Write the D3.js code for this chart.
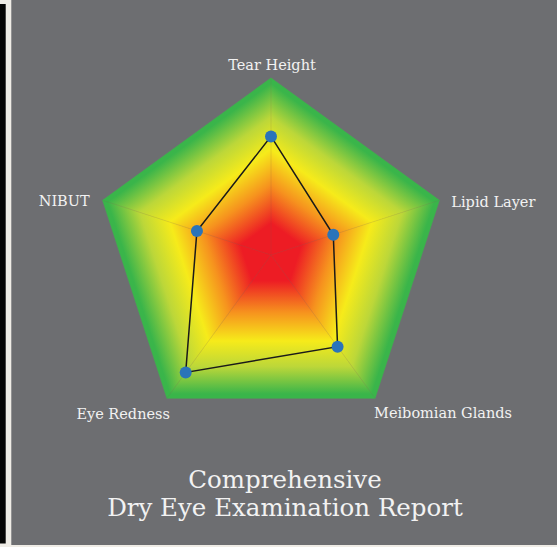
<!DOCTYPE html>
<html>
<head>
<meta charset="utf-8">
<script src="https://cdn.jsdelivr.net/npm/d3@7"></script>
<style>
  html, body { margin: 0; padding: 0; background: #efece6; }
  svg { display: block; }
  .label { font-family: "DejaVu Serif", serif; fill: #f2f2f2; }
</style>
</head>
<body>
<script>
// chart data
const axes = ["Tear Height", "Lipid Layer", "Meibomian Glands", "Eye Redness", "NIBUT"];
const scores = [6.7, 3.7, 6.4, 8.2, 4.4];
const maxScore = 10;
const titleLines = ["Comprehensive", "Dry Eye Examination Report"];

const width = 557, height = 547;
const cx = 271, cy = 255, R = 177;

const svg = d3.select("body").append("svg")
  .attr("width", width)
  .attr("height", height);

// frame: light page, black strip on the left, grey panel
svg.append("rect").attr("width", width).attr("height", height).attr("fill", "#efece6");
svg.append("rect").attr("x", 0).attr("y", 4).attr("width", 5.7).attr("height", 539.5).attr("fill", "#050505");
svg.append("rect").attr("x", 11.3).attr("y", 0).attr("width", width - 11.3).attr("height", 545).attr("fill", "#6d6e71");

const r = d3.scaleLinear().domain([0, maxScore]).range([0, R]);
const angle = d3.scaleLinear().domain([0, axes.length]).range([-Math.PI / 2, Math.PI * 1.5]);

const pt = (i, v) => [cx + r(v) * Math.cos(angle(i)), cy + r(v) * Math.sin(angle(i))];

const defs = svg.append("defs");
const g = svg.append("g");

// background pentagon: one triangle per sector, each with a gradient toward its edge
const sectors = d3.range(axes.length);
sectors.forEach(i => {
  const a = pt(i, maxScore), b = pt((i + 1) % axes.length, maxScore);
  const mx = (a[0] + b[0]) / 2, my = (a[1] + b[1]) / 2;
  const grad = defs.append("linearGradient")
    .attr("id", "sec" + i)
    .attr("gradientUnits", "userSpaceOnUse")
    .attr("x1", cx).attr("y1", cy)
    .attr("x2", mx).attr("y2", my);
  [[0, "#ed1c24"], [0.18, "#ed1c24"], [0.4, "#f6921e"], [0.6, "#f6eb1a"], [0.78, "#bcd739"], [0.97, "#3ab54a"], [1, "#39b54a"]]
    .forEach(s => grad.append("stop").attr("offset", s[0]).attr("stop-color", s[1]));
  g.append("path")
    .attr("d", "M" + [cx, cy] + "L" + a + "L" + b + "Z")
    .attr("fill", "url(#sec" + i + ")")
    .attr("stroke", "url(#sec" + i + ")")
    .attr("stroke-width", 0.6);
});

// spokes
g.selectAll("line.spoke")
  .data(axes)
  .join("line")
  .attr("class", "spoke")
  .attr("x1", cx).attr("y1", cy)
  .attr("x2", (d, i) => pt(i, maxScore)[0])
  .attr("y2", (d, i) => pt(i, maxScore)[1])
  .attr("stroke", "rgba(120,100,80,0.25)")
  .attr("stroke-width", 0.6);

// data polygon
const line = d3.line().curve(d3.curveLinearClosed);
g.append("path")
  .attr("d", line(scores.map((v, i) => pt(i, v))))
  .attr("fill", "none")
  .attr("stroke", "#1a1a1a")
  .attr("stroke-width", 1.5);

g.selectAll("circle.dot")
  .data(scores)
  .join("circle")
  .attr("class", "dot")
  .attr("cx", (d, i) => pt(i, d)[0])
  .attr("cy", (d, i) => pt(i, d)[1])
  .attr("r", 6)
  .attr("fill", "#2a74ba");

// axis labels, placed around the vertices
const labelOffset = [
  { dx: 1, dy: -8, anchor: "middle" },
  { dx: 12, dy: 7, anchor: "start" },
  { dx: -1, dy: 20, anchor: "start" },
  { dx: 3, dy: 21, anchor: "end" },
  { dx: -13, dy: 6, anchor: "end" }
];
svg.selectAll("text.axis-label")
  .data(axes)
  .join("text")
  .attr("class", "label axis-label")
  .attr("x", (d, i) => pt(i, maxScore)[0] + labelOffset[i].dx)
  .attr("y", (d, i) => pt(i, maxScore)[1] + labelOffset[i].dy)
  .attr("text-anchor", (d, i) => labelOffset[i].anchor)
  .attr("font-size", 14.5)
  .text(d => d);

// title
svg.selectAll("text.title")
  .data(titleLines)
  .join("text")
  .attr("class", "label title")
  .attr("x", 285)
  .attr("y", (d, i) => 488 + i * 28)
  .attr("text-anchor", "middle")
  .attr("font-size", 24.5)
  .text(d => d);
</script>
</body>
</html>
